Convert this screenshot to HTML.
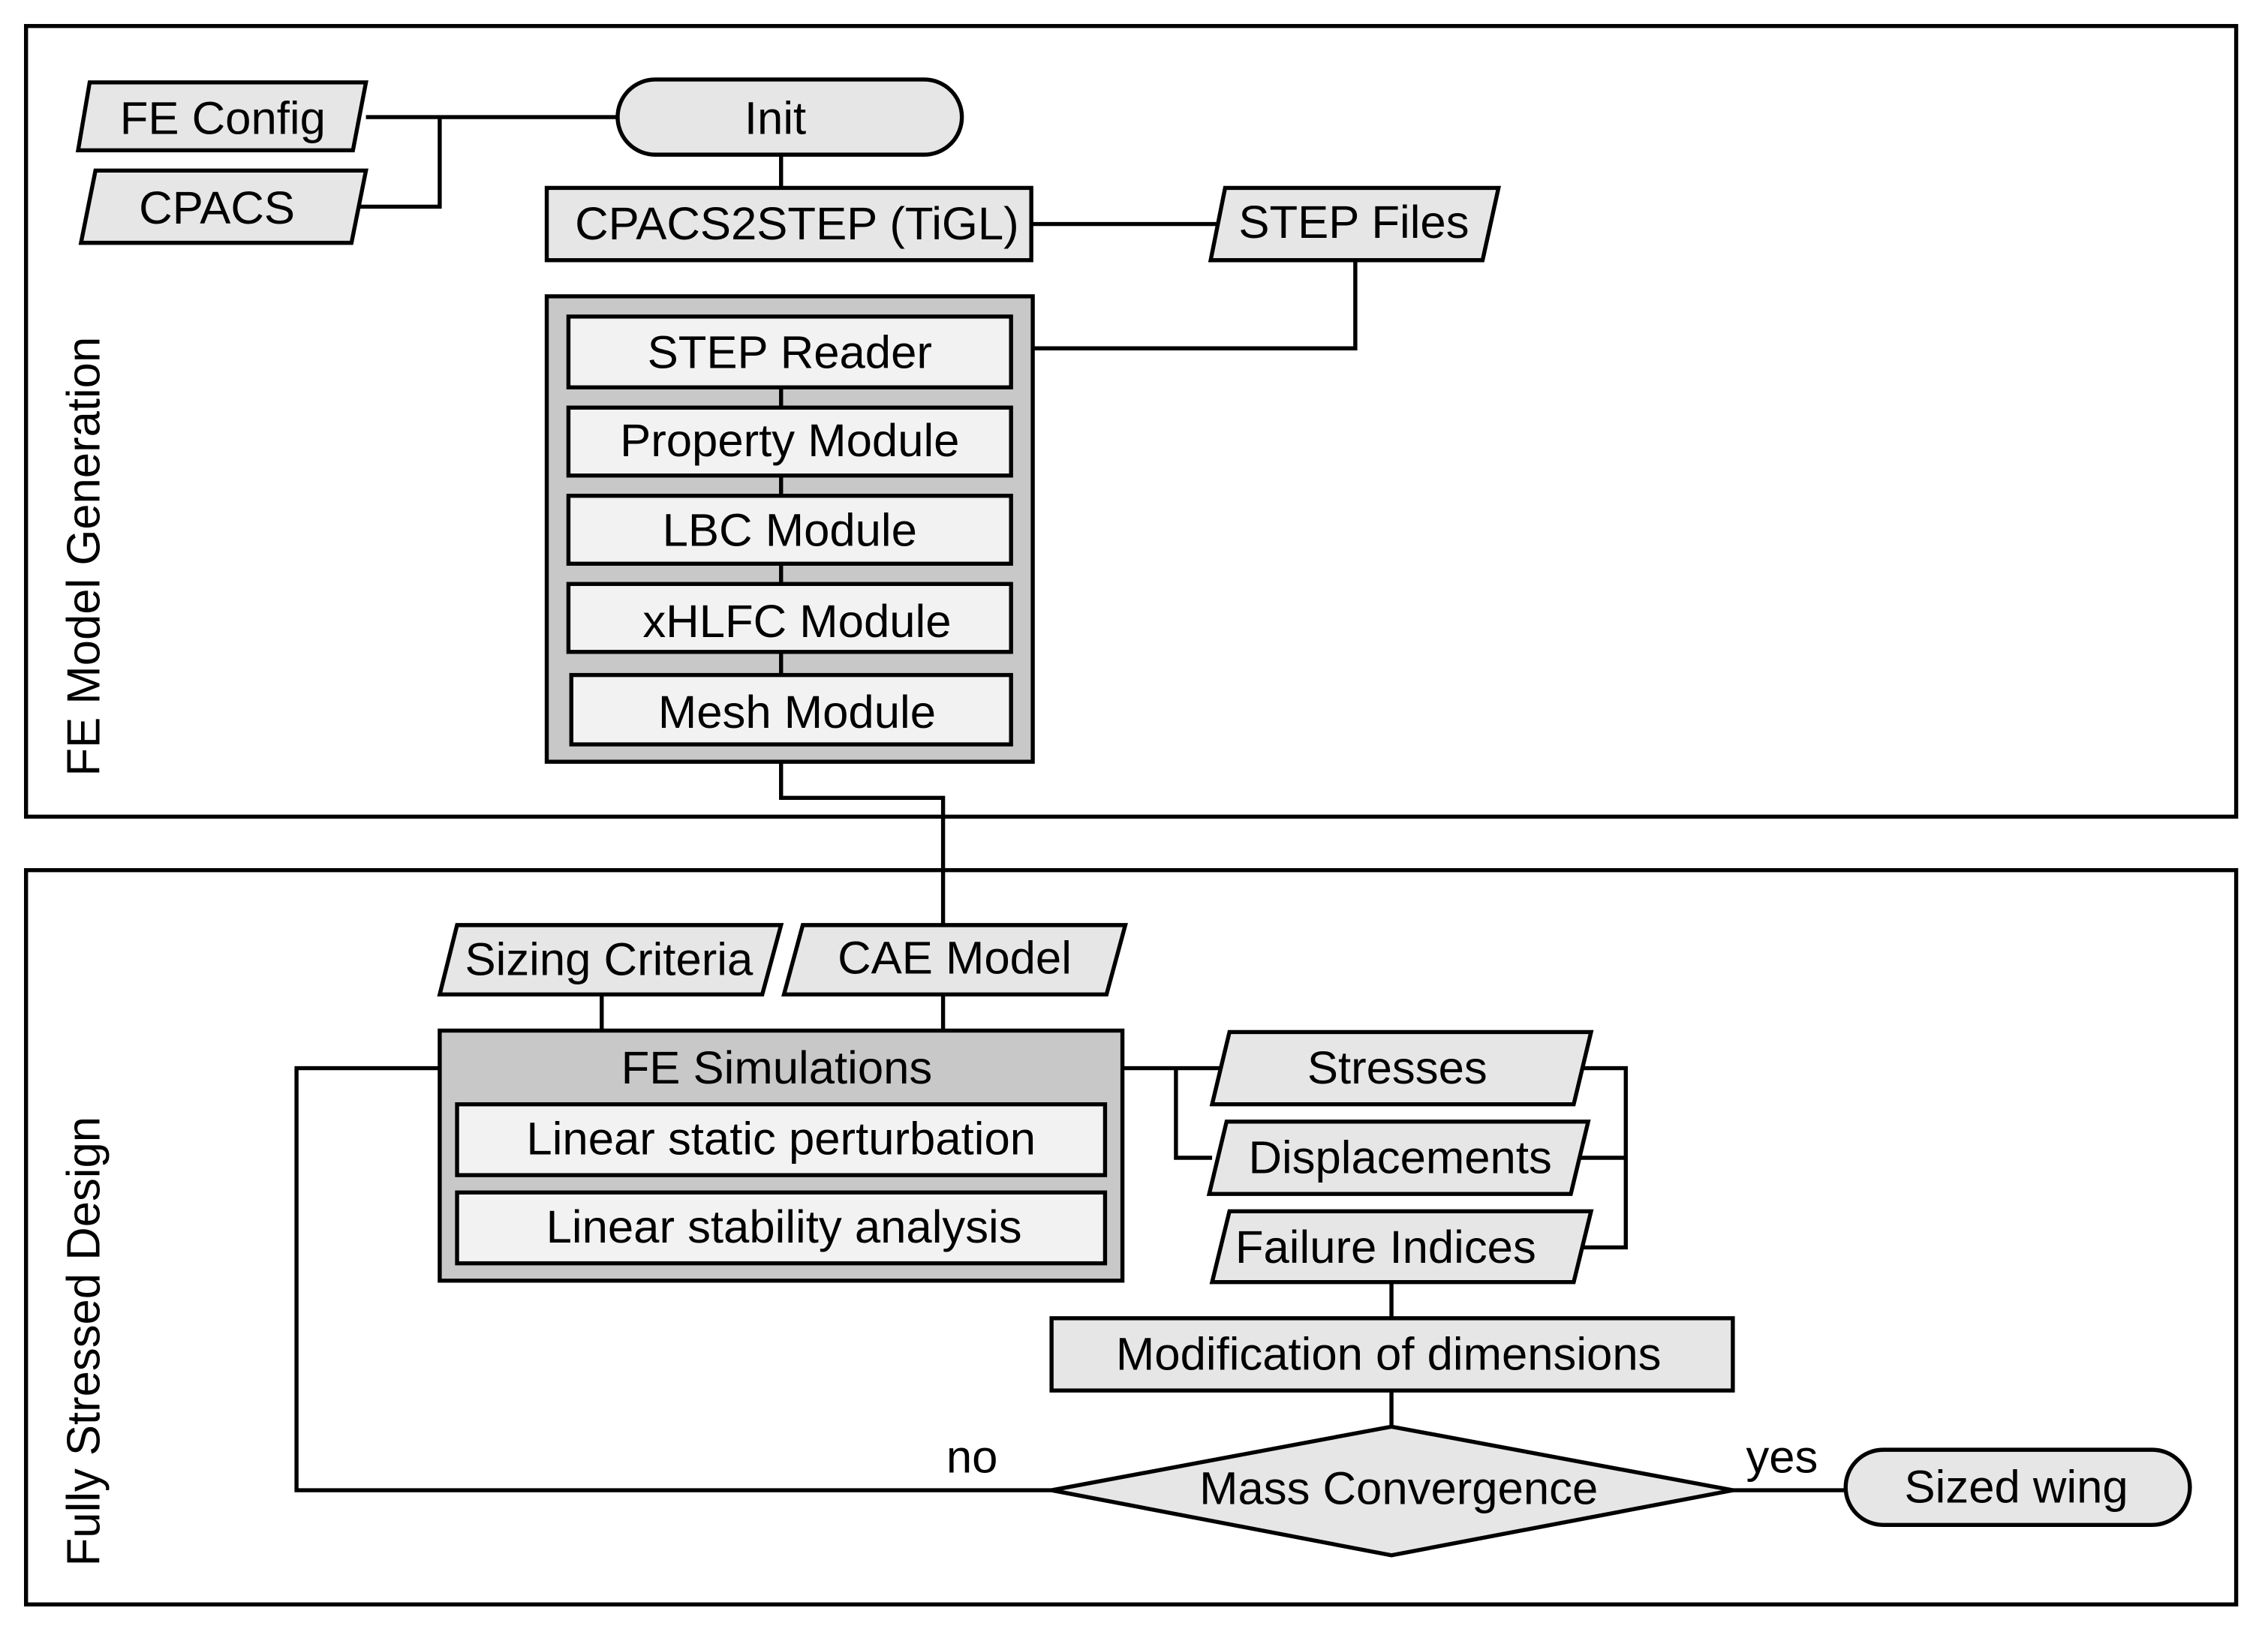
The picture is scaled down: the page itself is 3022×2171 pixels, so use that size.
<!DOCTYPE html>
<html><head><meta charset="utf-8"><style>
html,body{margin:0;padding:0;background:#fff;}
svg{display:block;}
text{font-family:"Liberation Sans",Arial,sans-serif;font-size:32px;fill:#000;text-anchor:middle;dominant-baseline:central;}
</style></head><body>
<svg width="3022" height="2171" viewBox="0 0 1568 1127" preserveAspectRatio="none" xmlns="http://www.w3.org/2000/svg">
<g stroke="#000" stroke-width="2.8" fill="none">
<rect x="18" y="18" width="1528" height="547" fill="#fff"/>
<rect x="18" y="602" width="1528" height="508" fill="#fff"/>
<path d="M253 81H427M304 81V143H248M540 107V130M713 155H845M937 180V241H699M540 515V552H652V640M652 688V713M416 688V713"/>
<path d="M304 739H205V1031H727M776 739H843M813 739V801H838M1094 739H1124V863H1094M1092 801H1124M962 887V912M962 962V987M1198 1031H1276"/>
<g fill="#e6e6e6">
<polygon points="62,57 253,57 244,104 54,104"/>
<polygon points="66,118 253,118 243,168 56,168"/>
<rect x="427" y="55" width="238" height="52" rx="26"/>
<rect x="378" y="130" width="335" height="50"/>
<polygon points="847,130 1036,130 1025,180 837,180"/>
<polygon points="316,640 540,640 527,688 304,688"/>
<polygon points="555,640 778,640 765,688 542,688"/>
<polygon points="850,714 1100,714 1088,764 838,764"/>
<polygon points="848,776 1098,776 1086,826 836,826"/>
<polygon points="850,838 1100,838 1088,887 838,887"/>
<rect x="727" y="912" width="471" height="50"/>
<polygon points="727,1031 962,987 1198,1031 962,1076"/>
<rect x="1276" y="1003" width="238" height="52" rx="26"/>
</g>
<rect x="378" y="205" width="336" height="322" fill="#c8c8c8"/>
<path d="M540 268V282M540 329V343M540 390V404M540 451V467"/>
<g fill="#f2f2f2">
<rect x="393" y="219" width="306" height="49"/>
<rect x="393" y="282" width="306" height="47"/>
<rect x="393" y="343" width="306" height="47"/>
<rect x="393" y="404" width="306" height="47"/>
<rect x="395" y="467" width="304" height="48"/>
</g>
<rect x="304" y="713" width="472" height="173" fill="#c8c8c8"/>
<g fill="#f2f2f2">
<rect x="316" y="764" width="448" height="49"/>
<rect x="316" y="825" width="448" height="49"/>
</g>
</g>
<text x="154" y="82">FE Config</text>
<text x="150" y="144">CPACS</text>
<text x="536" y="82">Init</text>
<text x="551" y="155">CPACS2STEP (TiGL)</text>
<text x="936" y="154">STEP Files</text>
<text x="546" y="244">STEP Reader</text>
<text x="546" y="305">Property Module</text>
<text x="546" y="367">LBC Module</text>
<text x="551" y="430">xHLFC Module</text>
<text x="551" y="493">Mesh Module</text>
<text x="421" y="664">Sizing Criteria</text>
<text x="660" y="663">CAE Model</text>
<text x="537" y="739">FE Simulations</text>
<text x="540" y="788">Linear static perturbation</text>
<text x="542" y="849">Linear stability analysis</text>
<text x="966" y="739">Stresses</text>
<text x="968" y="801">Displacements</text>
<text x="958" y="863">Failure Indices</text>
<text x="960" y="937">Modification of dimensions</text>
<text x="967" y="1030">Mass Convergence</text>
<text x="672" y="1008">no</text>
<text x="1232" y="1008">yes</text>
<text x="1394" y="1029">Sized wing</text>
<text transform="translate(58,385) rotate(-90)">FE Model Generation</text>
<text transform="translate(58,928) rotate(-90)">Fully Stressed Design</text>
</svg>
</body></html>
